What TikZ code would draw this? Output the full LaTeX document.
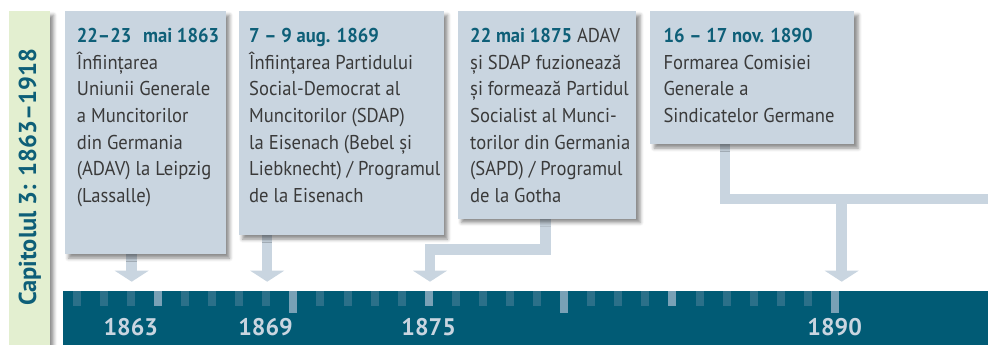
\documentclass[tikz,border=0pt]{standalone}
\usepackage{fontspec}
\setmainfont{PT Sans}[FakeStretch=0.93]
\newfontfamily\plainfont{PT Sans}
\usetikzlibrary{arrows.meta,shadows.blur}
\pgfdeclarelayer{background}
\pgfsetlayers{background,main}
\definecolor{boxcol}{HTML}{C9D5E0}
\definecolor{greencol}{HTML}{E3EFD0}
\definecolor{titlecol}{HTML}{0E5F78}
\definecolor{barcol}{HTML}{015B75}
\definecolor{tickdark}{HTML}{2B7089}
\definecolor{ticklight}{HTML}{79A1B6}
\definecolor{bodycol}{HTML}{3A3A3A}
\newcommand\boxlines[1]{\vtop{\halign{##\hfil\cr#1\crcr}}}
\newcommand\ttl[1]{{\bfseries\color{titlecol}#1}}
\tikzset{
  evbox/.style={fill=boxcol, draw=none, anchor=north west, inner sep=0pt,
    blur shadow={shadow xshift=4pt, shadow yshift=-4pt, shadow blur radius=3.5pt, shadow opacity=45}},
  evtext/.style={anchor=base west, inner sep=0pt, text=bodycol, font=\fontsize{20pt}{26.6pt}\selectfont},
  yearlbl/.style={anchor=base, inner sep=0pt, text=boxcol, font=\plainfont\fontsize{24pt}{28pt}\selectfont\bfseries},
  feedline/.style={draw=boxcol, line width=10.5pt, line join=miter},
  feed/.style={feedline, -{Triangle[length=11pt,width=34pt,line width=0pt]}},
  tickd/.style={fill=tickdark},
  tickl/.style={fill=ticklight},
}
\begin{document}
\begin{tikzpicture}[x=1pt,y=-1pt]
\useasboundingbox (0,0) rectangle (988,345);
% chapter label
\node[evbox, fill=greencol, minimum width=40.3pt, minimum height=345pt] (gbar) at (9,11) {};
\node[rotate=90, anchor=base, inner sep=0pt, text=titlecol, font=\plainfont\fontsize{24.5pt}{30pt}\selectfont\bfseries] (cap) at (36,177.5) {Capitolul 3: 1863–1918};
% timeline bar
\node[fill=barcol, anchor=north west, inner sep=0pt, minimum width=930pt, minimum height=60pt] (tl) at (63,290.7) {};
\foreach \k in {0,1,2,4,5,6,7,9,10,11,12,14,15,16,17,19,20,21,23,24,25,26,27}{
  \pgfmathsetmacro\xx{76.7+27.08*\k}
  \fill[tickd] (\xx-4,290.7) rectangle (\xx+4,305.7);
}
\foreach \k in {3,13,22}{
  \pgfmathsetmacro\xx{76.7+27.08*\k}
  \fill[tickl] (\xx-4,290.7) rectangle (\xx+4,305.7);
}
\foreach \k in {8,18,28}{
  \pgfmathsetmacro\xx{76.7+27.08*\k}
  \fill[tickl] (\xx-4,290.7) rectangle (\xx+4,313.3);
}
\node[yearlbl] (y1) at (130.8,335.7) {1863};
\node[yearlbl] (y2) at (265.5,335.7) {1869};
\node[yearlbl] (y3) at (428.7,335.7) {1875};
\node[yearlbl] (y4) at (834.7,335.7) {1890};
% event boxes
\node[evbox, minimum width=161pt, minimum height=243pt] (b1) at (64.3,11) {};
\node[evbox, minimum width=205pt, minimum height=224pt] (b2) at (238.3,11) {};
\node[evbox, minimum width=178.7pt, minimum height=207.3pt] (b3) at (457.3,11) {};
\node[evbox, minimum width=204pt, minimum height=133pt] (b4) at (650,11) {};
\node[evtext] (t1) at (76.7,42.7) {\boxlines{\ttl{22–23\hspace{0.35em} mai 1863}\cr
Înființarea\cr Uniunii Generale\cr a Muncitorilor\cr din Germania\cr (ADAV) la Leipzig\cr (Lassalle)}};
\node[evtext] (t2) at (249,42.7) {\boxlines{\ttl{7 – 9 aug. 1869}\cr
Înființarea Partidului\cr Social-Democrat al\cr Muncitorilor (SDAP)\cr la Eisenach (Bebel și\cr Liebknecht) / Programul\cr de la Eisenach}};
\node[evtext] (t3) at (470,42.7) {\boxlines{\ttl{22 mai 1875} ADAV\cr
și SDAP fuzionează\cr și formează Partidul\cr Socialist al Munci-\cr torilor din Germania\cr (SAPD) / Programul\cr de la Gotha}};
\node[evtext] (t4) at (663.3,42.7) {\boxlines{\ttl{16 – 17 nov. 1890}\cr
Formarea Comisiei\cr Generale a\cr Sindicatelor Germane}};
% connectors
\coordinate (a1) at (131.7,281.7);
\coordinate (a2) at (267.2,281.7);
\coordinate (j3) at (545.7,249.7);
\coordinate (a3) at (430,281.7);
\coordinate (j4) at (725,199);
\coordinate (r4) at (995,199);
\coordinate (k4) at (841.7,199);
\coordinate (a4) at (841.7,281.7);
\begin{pgfonlayer}{background}
\draw[feed] (b1.south -| a1) -- (a1);
\draw[feed] (b2.south -| a2) -- (a2);
\draw[feed] (b3.south -| j3) -- (j3) -| (a3);
\draw[feedline] (b4.south -| j4) -- (j4) -- (r4);
\draw[feed] (k4) -- (a4);
\end{pgfonlayer}
\end{tikzpicture}
\end{document}
